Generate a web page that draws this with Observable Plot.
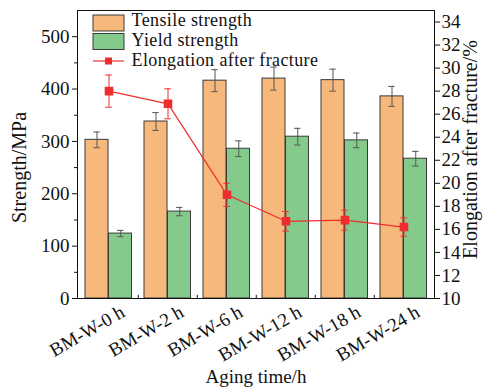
<!DOCTYPE html>
<html><head><meta charset="utf-8">
<script src="https://cdn.jsdelivr.net/npm/d3@7"></script>
<script src="https://cdn.jsdelivr.net/npm/@observablehq/plot@0.6"></script>
<style>
body{margin:0;background:#fff;}
#wrap{position:relative;width:483px;height:391px;}
#wrap svg{font-family:"Liberation Serif","Times New Roman",serif;}
#legend{position:absolute;left:0;top:0;}
</style></head><body><div id="wrap"></div>
<script>
const categories = ["BM-W-0 h","BM-W-2 h","BM-W-6 h","BM-W-12 h","BM-W-18 h","BM-W-24 h"];
const tensile = [303, 338, 416, 420, 417, 386];
const tensileErr = [15, 17, 21, 22, 21, 19];
const yieldStrength = [124, 166, 286, 309, 302, 267];
const yieldErr = [6, 8, 15, 16, 14, 14];
const elongation = [28.0, 26.9, 19.0, 16.7, 16.8, 16.2];
const elongationErr = [1.4, 1.3, 1.0, 0.85, 0.87, 0.8];
const leftTicks = [0, 100, 200, 300, 400, 500];
const leftMinorTicks = [50, 150, 250, 350, 450, 550];
const rightTicks = [10, 12, 14, 16, 18, 20, 22, 24, 26, 28, 30, 32, 34];
const seriesNames = ["Tensile strength", "Yield strength", "Elongation after fracture"];

const strengthDomain = [0, 550];
const elongDomain = [10, 35];
const k = (strengthDomain[1] - strengthDomain[0]) / (elongDomain[1] - elongDomain[0]);
const toLeft = v => (v - elongDomain[0]) * k;
const fromLeft = s => s / k + elongDomain[0];

const rows = categories.map((c, i) => ({
  cat: c, t: tensile[i], te: tensileErr[i], y: yieldStrength[i], ye: yieldErr[i],
  e: elongation[i], ee: elongationErr[i]
}));

const ORANGE = "#F6B87B", GREEN = "#84CA8B", RED = "#EE2E2E", EDGE = "#3a3a3a", ERR = "#555";
const W = 483, H = 391, mL = 77, mR = 49, mT = 10, mB = 93;
const band = (W - mL - mR) / categories.length;

const plot = Plot.plot({
  width: W, height: H, marginLeft: mL, marginRight: mR, marginTop: mT, marginBottom: mB,
  style: {fontFamily: '"Liberation Serif","Times New Roman",serif', fontSize: "19px", color: "#111", background: "white"},
  x: {domain: categories, padding: 0, label: null},
  y: {domain: strengthDomain, label: null},
  marks: [
    Plot.barY(rows, {x: "cat", y: "t", fill: ORANGE, stroke: EDGE, strokeWidth: 1, insetLeft: 6, insetRight: band - 29.5}),
    Plot.barY(rows, {x: "cat", y: "y", fill: GREEN, stroke: EDGE, strokeWidth: 1, insetLeft: 29.5, insetRight: 6.5}),
    // error bars tensile
    Plot.ruleX(rows, {x: "cat", y1: d => d.t - d.te, y2: d => d.t + d.te, dx: 17.75 - band / 2, stroke: ERR, strokeWidth: 1}),
    Plot.tickY(rows, {x: "cat", y: d => d.t - d.te, insetLeft: 14.25, insetRight: band - 21.25, stroke: ERR}),
    Plot.tickY(rows, {x: "cat", y: d => d.t + d.te, insetLeft: 14.25, insetRight: band - 21.25, stroke: ERR}),
    // error bars yield
    Plot.ruleX(rows, {x: "cat", y1: d => d.y - d.ye, y2: d => d.y + d.ye, dx: 41.5 - band / 2, stroke: ERR, strokeWidth: 1}),
    Plot.tickY(rows, {x: "cat", y: d => d.y - d.ye, insetLeft: 38, insetRight: band - 45, stroke: ERR}),
    Plot.tickY(rows, {x: "cat", y: d => d.y + d.ye, insetLeft: 38, insetRight: band - 45, stroke: ERR}),
    // elongation
    Plot.line(rows, {x: "cat", y: d => toLeft(d.e), stroke: RED, strokeWidth: 1.2}),
    Plot.ruleX(rows, {x: "cat", y1: d => toLeft(d.e - d.ee), y2: d => toLeft(d.e + d.ee), stroke: RED, strokeWidth: 1}),
    Plot.tickY(rows, {x: "cat", y: d => toLeft(d.e - d.ee), insetLeft: band / 2 - 3.5, insetRight: band / 2 - 3.5, stroke: RED}),
    Plot.tickY(rows, {x: "cat", y: d => toLeft(d.e + d.ee), insetLeft: band / 2 - 3.5, insetRight: band / 2 - 3.5, stroke: RED}),
    Plot.dot(rows, {x: "cat", y: d => toLeft(d.e), symbol: "square", r: 4, fill: RED, stroke: RED}),
    // group boundary ticks at bottom
    Plot.ruleX(categories.slice(1), {x: d => d, y1: 0, y2: 6, dx: -band / 2, stroke: "#111"}),
    // axes
    Plot.axisY(leftTicks, {anchor: "left", tickSize: 5, tickPadding: 3, label: null}),
    Plot.axisY(leftMinorTicks.filter(v => v < strengthDomain[1]), {anchor: "left", tickSize: 3, tickFormat: () => "", label: null}),
    Plot.axisY(rightTicks.map(toLeft), {anchor: "right", tickSize: 5, tickPadding: 2, tickFormat: d => String(Math.round(fromLeft(d))), label: null}),
    Plot.axisX({anchor: "bottom", tickSize: 0, tickRotate: -30, tickPadding: 6, dx: 14, dy: 6, label: null}),
    Plot.frame({stroke: "#111", strokeWidth: 1}),
    Plot.text(["Strength/MPa"], {frameAnchor: "left", textAnchor: "middle", lineAnchor: "middle", dx: -58, dy: 13, rotate: -90, fontSize: 20}),
    Plot.text(["Elongation after fracture/%"], {frameAnchor: "right", textAnchor: "middle", lineAnchor: "middle", dx: 36, dy: -5, rotate: -90, fontSize: 20}),
    Plot.text(["Aging time/h"], {frameAnchor: "bottom", textAnchor: "middle", lineAnchor: "middle", dy: 78, fontSize: 19})
  ]
});
const wrap = document.getElementById("wrap");
wrap.appendChild(plot);

// legend overlay inside the frame (top-left)
const lg = d3.select(wrap).append("svg").attr("id", "legend").attr("width", 360).attr("height", 80)
  .style("font-family", '"Liberation Serif","Times New Roman",serif').style("font-size", "18px");
const items = [
  {name: seriesNames[0], type: "bar", fill: ORANGE},
  {name: seriesNames[1], type: "bar", fill: GREEN},
  {name: seriesNames[2], type: "line", fill: RED}
];
const swatchY = [23, 41.5, 61];
const baseY = [26, 46, 66];
items.forEach((it, i) => {
  const g = lg.append("g");
  if (it.type === "bar") {
    g.append("rect").attr("x", 93).attr("y", swatchY[i] - 8).attr("width", 31).attr("height", 16)
      .attr("fill", it.fill).attr("stroke", EDGE);
  } else {
    g.append("line").attr("x1", 93).attr("x2", 124).attr("y1", swatchY[i]).attr("y2", swatchY[i]).attr("stroke", it.fill).attr("stroke-width", 1.2);
    g.append("rect").attr("x", 105).attr("y", swatchY[i] - 3.5).attr("width", 7).attr("height", 7).attr("fill", it.fill);
  }
  g.append("text").attr("x", 131.5).attr("y", baseY[i]).attr("fill", "#111")
    .style("letter-spacing", "0.4px").text(it.name);
});
</script></body></html>
